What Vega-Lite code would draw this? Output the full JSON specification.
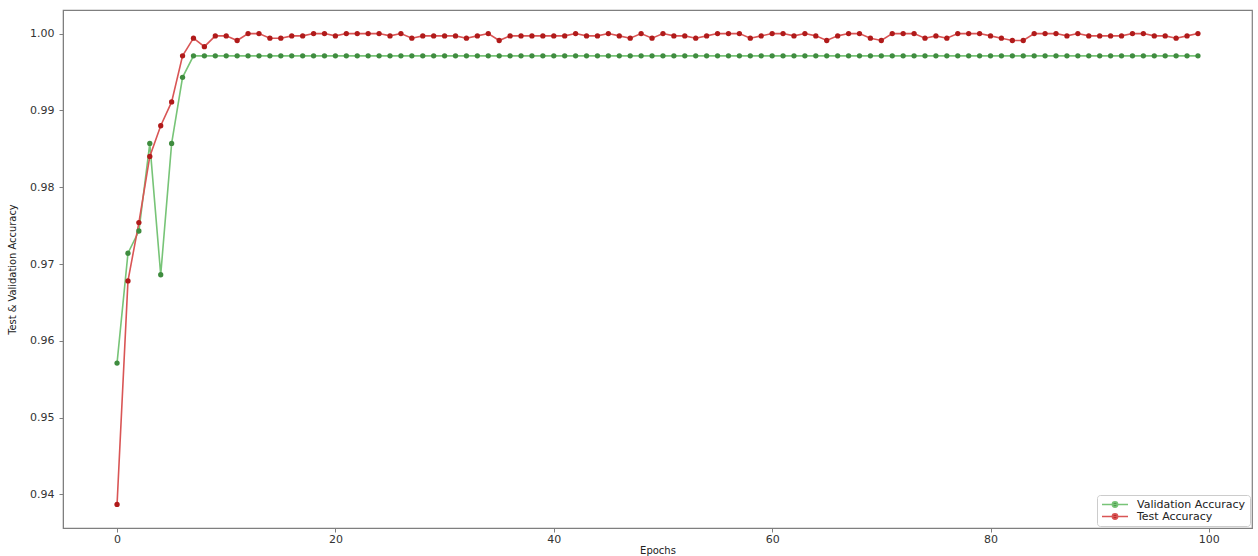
{
  "$schema": "https://vega.github.io/schema/vega-lite/v6.json",
  "width": 1189,
  "height": 518,
  "autosize": {"type": "none"},
  "padding": {"left": 63, "top": 10, "right": 6, "bottom": 28},
  "background": "white",
  "config": {
    "view": {"stroke": "#7f7f7f", "strokeWidth": 1.2},
    "axis": {
      "grid": false,
      "domainColor": "#7f7f7f",
      "tickColor": "#7f7f7f",
      "tickSize": 4,
      "labelFont": "DejaVu Sans",
      "labelFontSize": 11,
      "labelColor": "#333333",
      "titleFont": "DejaVu Sans",
      "titleFontWeight": "normal",
      "titleColor": "#222222"
    },
    "legend": {
      "labelFont": "DejaVu Sans",
      "labelFontSize": 11,
      "labelColor": "#222222"
    }
  },
  "data": {
    "values": [
      {"epoch": 0, "Validation Accuracy": 0.9571, "Test Accuracy": 0.9387},
      {"epoch": 1, "Validation Accuracy": 0.9714, "Test Accuracy": 0.9678},
      {"epoch": 2, "Validation Accuracy": 0.9743, "Test Accuracy": 0.9754},
      {"epoch": 3, "Validation Accuracy": 0.9857, "Test Accuracy": 0.9840},
      {"epoch": 4, "Validation Accuracy": 0.9686, "Test Accuracy": 0.9880},
      {"epoch": 5, "Validation Accuracy": 0.9857, "Test Accuracy": 0.9911},
      {"epoch": 6, "Validation Accuracy": 0.9943, "Test Accuracy": 0.9971},
      {"epoch": 7, "Validation Accuracy": 0.9971, "Test Accuracy": 0.9994},
      {"epoch": 8, "Validation Accuracy": 0.9971, "Test Accuracy": 0.9983},
      {"epoch": 9, "Validation Accuracy": 0.9971, "Test Accuracy": 0.9997},
      {"epoch": 10, "Validation Accuracy": 0.9971, "Test Accuracy": 0.9997},
      {"epoch": 11, "Validation Accuracy": 0.9971, "Test Accuracy": 0.9991},
      {"epoch": 12, "Validation Accuracy": 0.9971, "Test Accuracy": 1.0},
      {"epoch": 13, "Validation Accuracy": 0.9971, "Test Accuracy": 1.0},
      {"epoch": 14, "Validation Accuracy": 0.9971, "Test Accuracy": 0.9994},
      {"epoch": 15, "Validation Accuracy": 0.9971, "Test Accuracy": 0.9994},
      {"epoch": 16, "Validation Accuracy": 0.9971, "Test Accuracy": 0.9997},
      {"epoch": 17, "Validation Accuracy": 0.9971, "Test Accuracy": 0.9997},
      {"epoch": 18, "Validation Accuracy": 0.9971, "Test Accuracy": 1.0},
      {"epoch": 19, "Validation Accuracy": 0.9971, "Test Accuracy": 1.0},
      {"epoch": 20, "Validation Accuracy": 0.9971, "Test Accuracy": 0.9997},
      {"epoch": 21, "Validation Accuracy": 0.9971, "Test Accuracy": 1.0},
      {"epoch": 22, "Validation Accuracy": 0.9971, "Test Accuracy": 1.0},
      {"epoch": 23, "Validation Accuracy": 0.9971, "Test Accuracy": 1.0},
      {"epoch": 24, "Validation Accuracy": 0.9971, "Test Accuracy": 1.0},
      {"epoch": 25, "Validation Accuracy": 0.9971, "Test Accuracy": 0.9997},
      {"epoch": 26, "Validation Accuracy": 0.9971, "Test Accuracy": 1.0},
      {"epoch": 27, "Validation Accuracy": 0.9971, "Test Accuracy": 0.9994},
      {"epoch": 28, "Validation Accuracy": 0.9971, "Test Accuracy": 0.9997},
      {"epoch": 29, "Validation Accuracy": 0.9971, "Test Accuracy": 0.9997},
      {"epoch": 30, "Validation Accuracy": 0.9971, "Test Accuracy": 0.9997},
      {"epoch": 31, "Validation Accuracy": 0.9971, "Test Accuracy": 0.9997},
      {"epoch": 32, "Validation Accuracy": 0.9971, "Test Accuracy": 0.9994},
      {"epoch": 33, "Validation Accuracy": 0.9971, "Test Accuracy": 0.9997},
      {"epoch": 34, "Validation Accuracy": 0.9971, "Test Accuracy": 1.0},
      {"epoch": 35, "Validation Accuracy": 0.9971, "Test Accuracy": 0.9991},
      {"epoch": 36, "Validation Accuracy": 0.9971, "Test Accuracy": 0.9997},
      {"epoch": 37, "Validation Accuracy": 0.9971, "Test Accuracy": 0.9997},
      {"epoch": 38, "Validation Accuracy": 0.9971, "Test Accuracy": 0.9997},
      {"epoch": 39, "Validation Accuracy": 0.9971, "Test Accuracy": 0.9997},
      {"epoch": 40, "Validation Accuracy": 0.9971, "Test Accuracy": 0.9997},
      {"epoch": 41, "Validation Accuracy": 0.9971, "Test Accuracy": 0.9997},
      {"epoch": 42, "Validation Accuracy": 0.9971, "Test Accuracy": 1.0},
      {"epoch": 43, "Validation Accuracy": 0.9971, "Test Accuracy": 0.9997},
      {"epoch": 44, "Validation Accuracy": 0.9971, "Test Accuracy": 0.9997},
      {"epoch": 45, "Validation Accuracy": 0.9971, "Test Accuracy": 1.0},
      {"epoch": 46, "Validation Accuracy": 0.9971, "Test Accuracy": 0.9997},
      {"epoch": 47, "Validation Accuracy": 0.9971, "Test Accuracy": 0.9994},
      {"epoch": 48, "Validation Accuracy": 0.9971, "Test Accuracy": 1.0},
      {"epoch": 49, "Validation Accuracy": 0.9971, "Test Accuracy": 0.9994},
      {"epoch": 50, "Validation Accuracy": 0.9971, "Test Accuracy": 1.0},
      {"epoch": 51, "Validation Accuracy": 0.9971, "Test Accuracy": 0.9997},
      {"epoch": 52, "Validation Accuracy": 0.9971, "Test Accuracy": 0.9997},
      {"epoch": 53, "Validation Accuracy": 0.9971, "Test Accuracy": 0.9994},
      {"epoch": 54, "Validation Accuracy": 0.9971, "Test Accuracy": 0.9997},
      {"epoch": 55, "Validation Accuracy": 0.9971, "Test Accuracy": 1.0},
      {"epoch": 56, "Validation Accuracy": 0.9971, "Test Accuracy": 1.0},
      {"epoch": 57, "Validation Accuracy": 0.9971, "Test Accuracy": 1.0},
      {"epoch": 58, "Validation Accuracy": 0.9971, "Test Accuracy": 0.9994},
      {"epoch": 59, "Validation Accuracy": 0.9971, "Test Accuracy": 0.9997},
      {"epoch": 60, "Validation Accuracy": 0.9971, "Test Accuracy": 1.0},
      {"epoch": 61, "Validation Accuracy": 0.9971, "Test Accuracy": 1.0},
      {"epoch": 62, "Validation Accuracy": 0.9971, "Test Accuracy": 0.9997},
      {"epoch": 63, "Validation Accuracy": 0.9971, "Test Accuracy": 1.0},
      {"epoch": 64, "Validation Accuracy": 0.9971, "Test Accuracy": 0.9997},
      {"epoch": 65, "Validation Accuracy": 0.9971, "Test Accuracy": 0.9991},
      {"epoch": 66, "Validation Accuracy": 0.9971, "Test Accuracy": 0.9997},
      {"epoch": 67, "Validation Accuracy": 0.9971, "Test Accuracy": 1.0},
      {"epoch": 68, "Validation Accuracy": 0.9971, "Test Accuracy": 1.0},
      {"epoch": 69, "Validation Accuracy": 0.9971, "Test Accuracy": 0.9994},
      {"epoch": 70, "Validation Accuracy": 0.9971, "Test Accuracy": 0.9991},
      {"epoch": 71, "Validation Accuracy": 0.9971, "Test Accuracy": 1.0},
      {"epoch": 72, "Validation Accuracy": 0.9971, "Test Accuracy": 1.0},
      {"epoch": 73, "Validation Accuracy": 0.9971, "Test Accuracy": 1.0},
      {"epoch": 74, "Validation Accuracy": 0.9971, "Test Accuracy": 0.9994},
      {"epoch": 75, "Validation Accuracy": 0.9971, "Test Accuracy": 0.9997},
      {"epoch": 76, "Validation Accuracy": 0.9971, "Test Accuracy": 0.9994},
      {"epoch": 77, "Validation Accuracy": 0.9971, "Test Accuracy": 1.0},
      {"epoch": 78, "Validation Accuracy": 0.9971, "Test Accuracy": 1.0},
      {"epoch": 79, "Validation Accuracy": 0.9971, "Test Accuracy": 1.0},
      {"epoch": 80, "Validation Accuracy": 0.9971, "Test Accuracy": 0.9997},
      {"epoch": 81, "Validation Accuracy": 0.9971, "Test Accuracy": 0.9994},
      {"epoch": 82, "Validation Accuracy": 0.9971, "Test Accuracy": 0.9991},
      {"epoch": 83, "Validation Accuracy": 0.9971, "Test Accuracy": 0.9991},
      {"epoch": 84, "Validation Accuracy": 0.9971, "Test Accuracy": 1.0},
      {"epoch": 85, "Validation Accuracy": 0.9971, "Test Accuracy": 1.0},
      {"epoch": 86, "Validation Accuracy": 0.9971, "Test Accuracy": 1.0},
      {"epoch": 87, "Validation Accuracy": 0.9971, "Test Accuracy": 0.9997},
      {"epoch": 88, "Validation Accuracy": 0.9971, "Test Accuracy": 1.0},
      {"epoch": 89, "Validation Accuracy": 0.9971, "Test Accuracy": 0.9997},
      {"epoch": 90, "Validation Accuracy": 0.9971, "Test Accuracy": 0.9997},
      {"epoch": 91, "Validation Accuracy": 0.9971, "Test Accuracy": 0.9997},
      {"epoch": 92, "Validation Accuracy": 0.9971, "Test Accuracy": 0.9997},
      {"epoch": 93, "Validation Accuracy": 0.9971, "Test Accuracy": 1.0},
      {"epoch": 94, "Validation Accuracy": 0.9971, "Test Accuracy": 1.0},
      {"epoch": 95, "Validation Accuracy": 0.9971, "Test Accuracy": 0.9997},
      {"epoch": 96, "Validation Accuracy": 0.9971, "Test Accuracy": 0.9997},
      {"epoch": 97, "Validation Accuracy": 0.9971, "Test Accuracy": 0.9994},
      {"epoch": 98, "Validation Accuracy": 0.9971, "Test Accuracy": 0.9997},
      {"epoch": 99, "Validation Accuracy": 0.9971, "Test Accuracy": 1.0}
    ]
  },
  "transform": [
    {"fold": ["Validation Accuracy", "Test Accuracy"], "as": ["series", "acc"]}
  ],
  "encoding": {
    "x": {
      "field": "epoch",
      "type": "quantitative",
      "scale": {"domain": [-4.95, 103.95], "nice": false, "zero": false},
      "axis": {"values": [0, 20, 40, 60, 80, 100], "title": "Epochs", "titleFontSize": 10, "titlePadding": 1, "labelPadding": 1}
    },
    "y": {
      "field": "acc",
      "type": "quantitative",
      "scale": {"domain": [0.93563, 1.00307], "nice": false, "zero": false},
      "axis": {
        "values": [0.94, 0.95, 0.96, 0.97, 0.98, 0.99, 1.0],
        "format": ".2f",
        "title": "Test & Validation Accuracy",
        "titleFont": "Liberation Sans Narrow, DejaVu Sans Condensed, DejaVu Sans",
        "titleFontSize": 11,
        "titlePadding": 12,
        "labelPadding": 5
      }
    }
  },
  "layer": [
    {
      "mark": {"type": "line", "strokeWidth": 1.6},
      "encoding": {
        "stroke": {
          "field": "series",
          "type": "nominal",
          "sort": ["Validation Accuracy", "Test Accuracy"],
          "scale": {"domain": ["Validation Accuracy", "Test Accuracy"], "range": ["#77c477", "#d95555"]},
          "legend": {
            "title": null,
            "orient": "bottom-right",
            "offset": 2,
            "padding": 4,
            "rowPadding": 0,
            "clipHeight": 11,
            "strokeColor": "#cccccc",
            "fillColor": "white",
            "cornerRadius": 3,
            "symbolType": "M-1,0H1M-0.2,0A0.2,0.2 0 1,0 0.2,0A0.2,0.2 0 1,0 -0.2,0Z",
            "symbolSize": 676,
            "symbolStrokeWidth": 1.6,
            "labelOffset": 8
          }
        }
      }
    },
    {
      "mark": {"type": "point", "filled": true, "opacity": 1, "size": 28},
      "encoding": {
        "fill": {
          "field": "series",
          "type": "nominal",
          "sort": ["Validation Accuracy", "Test Accuracy"],
          "scale": {"domain": ["Validation Accuracy", "Test Accuracy"], "range": ["#3f8c3f", "#b01a1a"]},
          "legend": {
            "title": null,
            "orient": "bottom-right",
            "offset": 2,
            "padding": 4,
            "rowPadding": 0,
            "clipHeight": 11,
            "strokeColor": "#cccccc",
            "fillColor": "white",
            "cornerRadius": 3,
            "symbolType": "M-1,0H1M-0.2,0A0.2,0.2 0 1,0 0.2,0A0.2,0.2 0 1,0 -0.2,0Z",
            "symbolSize": 676,
            "symbolStrokeWidth": 1.6,
            "labelOffset": 8
          }
        }
      }
    }
  ]
}
